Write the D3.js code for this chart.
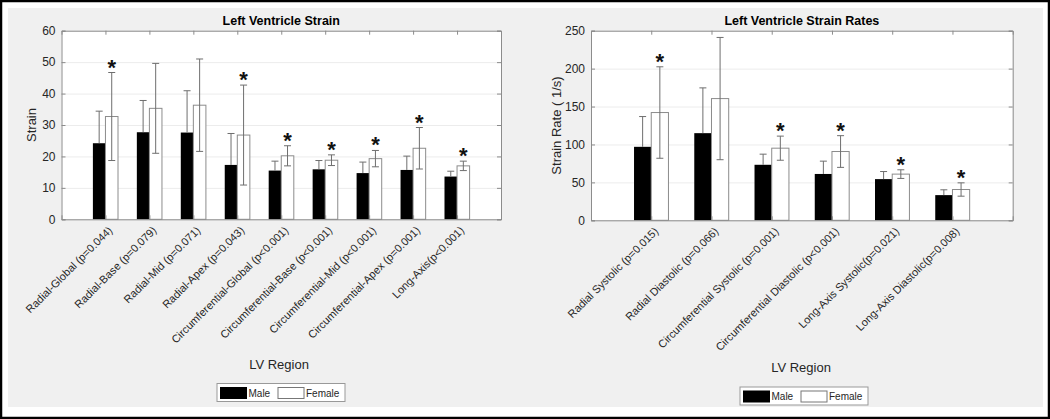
<!DOCTYPE html>
<html>
<head>
<meta charset="utf-8">
<script src="https://cdn.jsdelivr.net/npm/d3@7"></script>
<style>
  body { margin: 0; background: #fff; }
  text { font-family: "Liberation Sans", Arial, sans-serif; }
</style>
</head>
<body>
<div id="plot"></div>
<script>
// ---- strain (left panel) ----
const strainRegions = [
  "Radial-Global (p=0.044)", "Radial-Base (p=0.079)", "Radial-Mid (p=0.071)",
  "Radial-Apex (p=0.043)", "Circumferential-Global (p<0.001)", "Circumferential-Base (p<0.001)",
  "Circumferential-Mid (p<0.001)", "Circumferential-Apex (p=0.001)", "Long-Axis(p<0.001)"
];
const strainMale     = [24.2, 27.7, 27.6, 17.3, 15.5, 15.9, 14.7, 15.7, 13.6];
const strainMaleSD   = [10.2, 10.1, 13.3, 10.0, 3.0, 2.8, 3.5, 4.4, 1.7];
const strainFemale   = [32.7, 35.3, 36.3, 26.8, 20.2, 18.8, 19.3, 22.6, 17.0];
const strainFemaleSD = [14.0, 14.3, 14.7, 15.9, 3.2, 1.7, 2.6, 6.6, 1.5];
const strainSig      = [true, false, false, true, true, true, true, true, true];
const strainTicks    = [0, 10, 20, 30, 40, 50, 60];

// ---- strain rates (right panel) ----
const rateRegions = [
  "Radial Systolic (p=0.015)", "Radial Diastolic (p=0.066)", "Circumferential Systolic (p=0.001)",
  "Circumferential Diastolic (p<0.001)", "Long-Axis Systolic(p=0.021)", "Long-Axis Diastolic(p=0.008)"
];
const rateMale     = [96.9, 114.9, 73.2, 61.1, 54.3, 33.2];
const rateMaleSD   = [39.9, 59.7, 14.0, 16.9, 10.0, 7.0];
const rateFemale   = [142.1, 160.5, 95.1, 90.7, 60.9, 40.6];
const rateFemaleSD = [60.3, 80.6, 15.9, 20.9, 5.7, 8.8];
const rateSig      = [true, false, true, true, true, true];
const rateTicks    = [0, 50, 100, 150, 200, 250];

const legendKeys = ["Male", "Female"];

const width = 1050, height = 419;
const axisGrey = "#8c8c8c", errGrey = "#6e6e6e", textDark = "#262626";

const svg = d3.select("div#plot").append("svg")
    .attr("width", width)
    .attr("height", height);

// outer frame + figure background
svg.append("rect")
    .attr("x", 1).attr("y", 1).attr("width", width - 2).attr("height", height - 2)
    .attr("fill", "#fff").attr("stroke", "#000").attr("stroke-width", 2.5);
svg.append("rect")
    .attr("x", 8).attr("y", 8).attr("width", 1035).attr("height", 399)
    .attr("fill", "#f0f0f0");

function drawPanel(p) {
  const n = p.regions.length;
  const x = d3.scaleLinear().domain([0, n + 1]).range([p.left, p.right]);
  const y = d3.scaleLinear().domain([0, d3.max(p.ticks)]).range([p.bottom, p.top]);
  const bw = (x(1) - x(0)) * (2 / 3.5) / 2;
  const g = svg.append("g");

  // plot area
  g.append("rect")
      .attr("x", p.left).attr("y", p.top)
      .attr("width", p.right - p.left).attr("height", p.bottom - p.top)
      .attr("fill", "#fff");

  // grid
  g.append("g")
      .attr("transform", `translate(${p.left},0)`)
      .call(d3.axisLeft(y).tickValues(p.ticks).tickSize(-(p.right - p.left)).tickFormat(""))
      .call(a => a.select(".domain").remove())
      .call(a => a.selectAll("line").attr("stroke", "#ececec"));

  const idx = d3.range(n);

  // male bars
  g.selectAll(".male").data(idx).enter().append("rect")
      .attr("x", i => x(i + 1) - bw)
      .attr("y", i => y(p.male[i]))
      .attr("width", bw)
      .attr("height", i => y(0) - y(p.male[i]))
      .attr("fill", "#000");

  // female bars
  g.selectAll(".female").data(idx).enter().append("rect")
      .attr("x", i => x(i + 1))
      .attr("y", i => y(p.female[i]))
      .attr("width", bw)
      .attr("height", i => y(0) - y(p.female[i]))
      .attr("fill", "#fff")
      .attr("stroke", axisGrey)
      .attr("stroke-width", 1);

  // error bars (male only visible above the black bar)
  const cap = 3.5;
  function errorBar(cx, lo, hi, drawLow) {
    g.append("line").attr("x1", cx).attr("x2", cx).attr("y1", y(lo)).attr("y2", y(hi))
        .attr("stroke", errGrey).attr("stroke-width", 1);
    g.append("line").attr("x1", cx - cap).attr("x2", cx + cap).attr("y1", y(hi)).attr("y2", y(hi))
        .attr("stroke", errGrey).attr("stroke-width", 1);
    if (drawLow)
      g.append("line").attr("x1", cx - cap).attr("x2", cx + cap).attr("y1", y(lo)).attr("y2", y(lo))
          .attr("stroke", errGrey).attr("stroke-width", 1);
  }
  idx.forEach(i => {
    errorBar(x(i + 1) - bw / 2, p.male[i], p.male[i] + p.maleSD[i], false);
    errorBar(x(i + 1) + bw / 2, p.female[i] - p.femaleSD[i], p.female[i] + p.femaleSD[i], true);
  });

  // significance stars
  g.selectAll(".star").data(idx.filter(i => p.sig[i])).enter().append("text")
      .attr("x", i => x(i + 1) + bw / 2)
      .attr("y", i => y(p.female[i] + p.femaleSD[i]) + 2)
      .attr("text-anchor", "middle")
      .attr("font-size", "22px")
      .attr("font-weight", "bold")
      .attr("fill", "#111")
      .text("*");

  // axes box and ticks
  const tickCenters = idx.map(i => i + 1);
  const axes = g.append("g");
  axes.append("g").attr("transform", `translate(${p.left},0)`)
      .call(d3.axisLeft(y).tickValues(p.ticks).tickSize(-4).tickPadding(6))
      .call(a => a.selectAll("text").attr("font-size", "12px").attr("fill", textDark)
          .attr("font-family", "'Liberation Sans', Arial, sans-serif"));
  axes.append("g").attr("transform", `translate(${p.right},0)`)
      .call(d3.axisRight(y).tickValues(p.ticks).tickSize(-4).tickFormat(""));
  axes.append("g").attr("transform", `translate(0,${p.top})`)
      .call(d3.axisTop(x).tickValues(tickCenters).tickSize(-4).tickFormat(""));
  axes.append("g").attr("transform", `translate(0,${p.bottom})`)
      .call(d3.axisBottom(x).tickValues(tickCenters).tickSize(-4).tickFormat(""));
  axes.selectAll(".domain, .tick line").attr("stroke", axisGrey);

  // rotated category labels
  g.selectAll(".xlab").data(idx).enter().append("text")
      .attr("transform", i => `translate(${x(i + 1) + 5},${p.bottom + 9}) rotate(-45)`)
      .attr("text-anchor", "end")
      .attr("dy", "0.35em")
      .attr("font-size", "11px")
      .attr("fill", textDark)
      .text(i => p.regions[i]);

  // title
  g.append("text")
      .attr("x", (p.left + p.right) / 2).attr("y", p.top - 6)
      .attr("text-anchor", "middle")
      .attr("font-size", "12.5px").attr("font-weight", "bold")
      .attr("fill", "#000")
      .text(p.title);

  // y label
  g.append("text")
      .attr("transform", `translate(${p.ylabX},${(p.top + p.bottom) / 2}) rotate(-90)`)
      .attr("text-anchor", "middle")
      .attr("font-size", "13px")
      .attr("fill", textDark)
      .text(p.ylabel);

  // x label
  g.append("text")
      .attr("x", p.xlabX).attr("y", p.xlabY)
      .attr("text-anchor", "middle")
      .attr("font-size", "13px")
      .attr("fill", textDark)
      .text("LV Region");

  // legend
  const lg = g.append("g").attr("transform", `translate(${p.legX},${p.legY})`);
  lg.append("rect").attr("x", 0).attr("y", 0).attr("width", 128).attr("height", 18)
      .attr("fill", "#fff").attr("stroke", "#999");
  legendKeys.forEach((k, j) => {
    const ox = j === 0 ? 3.5 : 61;
    lg.append("rect").attr("x", ox).attr("y", 4).attr("width", 26).attr("height", 11)
        .attr("fill", j === 0 ? "#000" : "#fff").attr("stroke", j === 0 ? "#000" : "#777");
    lg.append("text").attr("x", ox + 28).attr("y", 13.3)
        .attr("font-size", "10px").attr("fill", textDark).text(k);
  });
}

drawPanel({
  title: "Left Ventricle Strain", ylabel: "Strain",
  regions: strainRegions, male: strainMale, maleSD: strainMaleSD,
  female: strainFemale, femaleSD: strainFemaleSD, sig: strainSig, ticks: strainTicks,
  left: 61.5, right: 501, top: 30.7, bottom: 219.3,
  ylabX: 36, xlabX: 279, xlabY: 369, legX: 217, legY: 383.5
});

drawPanel({
  title: "Left Ventricle Strain Rates", ylabel: "Strain Rate ( 1/s)",
  regions: rateRegions, male: rateMale, maleSD: rateMaleSD,
  female: rateFemale, femaleSD: rateFemaleSD, sig: rateSig, ticks: rateTicks,
  left: 591, right: 1012.7, top: 30.7, bottom: 220.3,
  ylabX: 561, xlabX: 801, xlabY: 372, legX: 740, legY: 387
});
</script>
</body>
</html>
